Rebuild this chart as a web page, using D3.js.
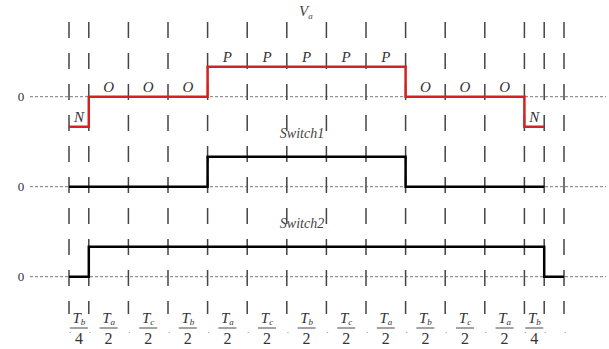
<!DOCTYPE html>
<meta charset="utf-8">
<script src="https://cdn.jsdelivr.net/npm/d3@7"></script>
<style>
    body { margin: 0; background: #fff; }
    text { font-family: "Liberation Serif", "Times New Roman", serif; }
    .lbl { font-style: italic; font-size: 15px; fill: #333; }
    .ttl { font-style: italic; font-size: 14px; fill: #444; }
    .zero { font-size: 13px; fill: #2b2f45; }
    .grid { stroke: #444; stroke-width: 1.5; stroke-dasharray: 16, 15; }
    .base { stroke: #555; stroke-width: 0.8; stroke-dasharray: 3, 2; }
</style>
<body>
<script>
// interval durations (units of T/2; Tb/4 = half unit), last one is the empty tail
var durations = [0.5, 1, 1, 1, 1, 1, 1, 1, 1, 1, 1, 1, 0.5, 0.5];
// Va state per interval (-1 = N, 0 = O, 1 = P)
var vaLevels = [-1, 0, 0, 0, 1, 1, 1, 1, 1, 0, 0, 0, -1];
var vaNames = ["N", "O", "O", "O", "P", "P", "P", "P", "P", "O", "O", "O", "N"];
var switch1 = [0, 0, 0, 0, 1, 1, 1, 1, 1, 0, 0, 0, 0];
var switch2 = [0, 1, 1, 1, 1, 1, 1, 1, 1, 1, 1, 1, 1, 0];
// bottom tick labels T_sub / den
var tickSubs = ["b", "a", "c", "b", "a", "c", "b", "c", "a", "b", "c", "a", "b"];
var tickDens = ["4", "2", "2", "2", "2", "2", "2", "2", "2", "2", "2", "2", "4"];

var width = 609, height = 349;
var svg = d3.select("body").append("svg")
    .attr("width", width)
    .attr("height", height);

// cumulative boundaries
var bounds = [0];
durations.forEach(function (d, i) { bounds.push(bounds[i] + d); });

var x = d3.scaleLinear().domain([0, d3.sum(durations)]).range([69, 564]);

var yVa = d3.scaleLinear().domain([-1, 1]).range([126.7, 66.7]);
var yS1 = d3.scaleLinear().domain([0, 1]).range([186.7, 156.7]);
var yS2 = d3.scaleLinear().domain([0, 1]).range([276.7, 246.7]);

// vertical dashed grid lines
svg.append("g").selectAll("line")
    .data(bounds)
    .enter().append("line")
    .attr("class", "grid")
    .attr("x1", function (d) { return x(d); })
    .attr("x2", function (d) { return x(d); })
    .attr("y1", 22)
    .attr("y2", 314);

// zero baselines
[yVa, yS1, yS2].forEach(function (y) {
    svg.append("line")
        .attr("class", "base")
        .attr("x1", 30).attr("x2", 606)
        .attr("y1", y(0)).attr("y2", y(0));
    svg.append("text")
        .attr("class", "zero")
        .attr("x", 21).attr("y", y(0) + 4)
        .attr("text-anchor", "middle")
        .text("0");
});

// step line helper
function stepPath(levels, y) {
    var pts = [];
    levels.forEach(function (v, i) {
        pts.push([x(bounds[i]), y(v)]);
        pts.push([x(bounds[i + 1]), y(v)]);
    });
    return d3.line()(pts);
}

svg.append("path")
    .attr("d", stepPath(vaLevels, yVa))
    .attr("fill", "none")
    .attr("stroke", "#d42222")
    .attr("stroke-width", 2.5);

svg.append("path")
    .attr("d", stepPath(switch1, yS1))
    .attr("fill", "none")
    .attr("stroke", "#000")
    .attr("stroke-width", 2.5);

svg.append("path")
    .attr("d", stepPath(switch2, yS2))
    .attr("fill", "none")
    .attr("stroke", "#000")
    .attr("stroke-width", 2.5);

// state letters
svg.append("g").selectAll("text")
    .data(vaNames)
    .enter().append("text")
    .attr("class", "lbl")
    .attr("text-anchor", "middle")
    .attr("x", function (d, i) { return x((bounds[i] + bounds[i + 1]) / 2); })
    .attr("y", function (d, i) { return yVa(vaLevels[i]) - 5; })
    .text(function (d) { return d; });

// titles
var va = svg.append("text").attr("class", "ttl").attr("x", 299).attr("y", 16)
    .style("font-size", "15px");
va.append("tspan").text("V");
va.append("tspan").attr("dy", 3).style("font-size", "9px").text("a");

svg.append("text").attr("class", "ttl").attr("x", 302).attr("y", 138)
    .attr("text-anchor", "middle").text("Switch1");
svg.append("text").attr("class", "ttl").attr("x", 302).attr("y", 228)
    .attr("text-anchor", "middle").text("Switch2");

// bottom fraction labels
var fr = svg.append("g").selectAll("g")
    .data(tickSubs)
    .enter().append("g")
    .attr("transform", function (d, i) {
        return "translate(" + x((bounds[i] + bounds[i + 1]) / 2) + ",0)";
    });

var num = fr.append("text")
    .attr("class", "lbl")
    .attr("text-anchor", "middle")
    .attr("y", 323);
num.append("tspan").text("T");
num.append("tspan").attr("dy", 2).style("font-size", "9px").text(function (d) { return d; });

fr.append("line")
    .attr("x1", -9).attr("x2", 9)
    .attr("y1", 328).attr("y2", 328)
    .attr("stroke", "#333").attr("stroke-width", 0.9);

fr.append("text")
    .attr("text-anchor", "middle")
    .attr("y", 344)
    .style("font-size", "16px")
    .attr("fill", "#333")
    .text(function (d, i) { return tickDens[i]; });

// small dots near grid positions at the bottom row
svg.append("g").selectAll("text")
    .data(bounds)
    .enter().append("text")
    .attr("x", function (d) { return x(d) + 1; })
    .attr("y", 333)
    .attr("text-anchor", "middle")
    .style("font-size", "9px")
    .attr("fill", "#666")
    .text(".");
</script>
</body>
